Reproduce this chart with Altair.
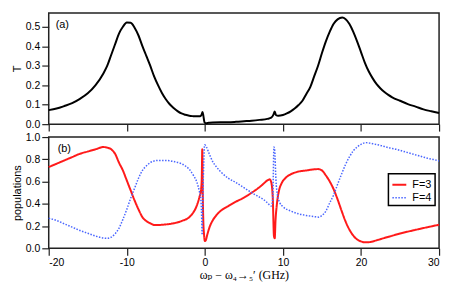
import altair as alt
import pandas as pd

# ---- data ----
t_x = [-20, -19, -18, -17, -16, -15, -14, -13, -12.5, -12, -11.5, -11, -10.5, -10, -9.5, -9,
       -8.5, -8, -7.5, -7, -6.5, -6, -5.5, -5, -4.5, -4, -3.5, -3, -2.5, -2, -1.5, -1,
       -0.6, -0.4, -0.3, -0.2, -0.05, 0.1, 0.5, 1, 2, 3, 4, 5, 6, 7, 8, 8.5, 8.8, 8.95,
       9.1, 9.4, 10, 10.5, 11, 11.5, 12, 12.5, 13, 13.5, 14, 14.5, 15, 15.5, 16, 16.5, 17,
       17.6, 18, 18.5, 19, 19.5, 20, 20.5, 21, 21.5, 22, 22.5, 23, 23.5, 24, 25, 26, 27,
       28, 29, 30]
t_y = [0.072, 0.08, 0.093, 0.108, 0.13, 0.158, 0.2, 0.26, 0.3, 0.355, 0.41, 0.465, 0.5, 0.522,
       0.52, 0.495, 0.455, 0.40, 0.35, 0.30, 0.245, 0.20, 0.16, 0.128, 0.102, 0.083, 0.067,
       0.055, 0.048, 0.043, 0.041, 0.040, 0.041, 0.05, 0.062, 0.045, 0.01, 0.005, 0.007,
       0.009, 0.010, 0.010, 0.012, 0.015, 0.018, 0.022, 0.027, 0.033, 0.05, 0.065,
       0.047, 0.043, 0.047, 0.055, 0.066, 0.08, 0.098, 0.12, 0.155, 0.19, 0.245, 0.30,
       0.365, 0.425, 0.475, 0.515, 0.538, 0.547, 0.54, 0.515, 0.475, 0.425, 0.37, 0.315,
       0.27, 0.235, 0.205, 0.183, 0.165, 0.15, 0.138, 0.12, 0.103, 0.09, 0.076, 0.066, 0.057]

f3_x = [-20, -19, -18, -17, -16, -15, -14, -13, -12.5, -12, -11.5, -11, -10.5, -10, -9.5, -9,
        -8.5, -8, -7.5, -7, -6.5, -6, -5, -4, -3, -2, -1.5, -1, -0.7, -0.5, -0.4, -0.33,
        -0.27, -0.2, -0.1, 0, 0.1, 0.3, 0.6, 1, 1.5, 2, 3, 4, 5, 6, 7, 7.5, 8, 8.3, 8.5,
        8.7, 8.85, 8.95, 9.05, 9.2, 9.5, 9.8, 10.3, 11, 12, 13, 14, 14.5, 15, 15.5, 16,
        16.5, 17, 17.5, 18, 18.5, 19, 19.5, 20, 20.5, 21, 22, 23, 24, 25, 26, 27, 28, 29, 30]
f3_y = [0.73, 0.76, 0.79, 0.82, 0.85, 0.87, 0.89, 0.91, 0.905, 0.89, 0.85, 0.77, 0.70, 0.61,
        0.52, 0.43, 0.35, 0.28, 0.245, 0.225, 0.21, 0.21, 0.215, 0.225, 0.245, 0.28, 0.32,
        0.39, 0.46, 0.52, 0.62, 0.89, 0.50, 0.25, 0.12, 0.065, 0.07, 0.12, 0.19, 0.25,
        0.30, 0.335, 0.38, 0.42, 0.455, 0.50, 0.55, 0.58, 0.61, 0.62, 0.595, 0.45, 0.11,
        0.09, 0.25, 0.38, 0.52, 0.58, 0.63, 0.665, 0.69, 0.70, 0.71, 0.712, 0.70, 0.655,
        0.60, 0.53, 0.44, 0.34, 0.245, 0.17, 0.115, 0.08, 0.062, 0.054, 0.055, 0.072,
        0.093, 0.113, 0.133, 0.15, 0.166, 0.182, 0.197, 0.212]

f4_x = [-20, -19, -18, -17, -16, -15, -14, -13, -12.5, -12, -11.5, -11, -10.5, -10, -9.5, -9,
        -8.5, -8, -7.5, -7, -6.5, -6, -5, -4, -3, -2.5, -2, -1.5, -1, -0.7, -0.5, -0.4,
        -0.35, -0.3, -0.15, -0.03, 0.2, 0.5, 1, 1.5, 2, 3, 4, 5, 6, 7, 7.5, 8, 8.5, 8.7,
        8.85, 8.95, 9.1, 9.3, 9.6, 10, 11, 12, 13, 14, 14.6, 15, 15.5, 16, 16.5, 17, 17.5,
        18, 18.5, 19, 19.5, 20, 20.7, 21.5, 22.5, 23.5, 24.5, 25.5, 26.5, 27.5, 28.5,
        29.5, 30]
f4_y = [0.27, 0.25, 0.22, 0.19, 0.16, 0.135, 0.11, 0.093, 0.09, 0.10, 0.13, 0.18, 0.26, 0.35,
        0.45, 0.54, 0.63, 0.70, 0.74, 0.77, 0.785, 0.79, 0.79, 0.78, 0.76, 0.74, 0.71,
        0.66, 0.59, 0.51, 0.43, 0.25, 0.12, 0.3, 0.75, 0.93, 0.91, 0.86, 0.78, 0.73, 0.69,
        0.63, 0.59, 0.545, 0.50, 0.46, 0.44, 0.41, 0.38, 0.45, 0.91, 0.88, 0.62, 0.48,
        0.41, 0.375, 0.335, 0.31, 0.295, 0.285, 0.28, 0.295, 0.335, 0.41, 0.48, 0.575,
        0.665, 0.75, 0.82, 0.875, 0.91, 0.935, 0.95, 0.94, 0.925, 0.905, 0.89, 0.87, 0.85,
        0.83, 0.81, 0.795, 0.785]

series_names = ["F=3", "F=4"]
series_colors = ["#ff1a1a", "#4a66ff"]
x_ticks = [-20, -10, 0, 10, 20, 30]
t_ticks = [0.0, 0.1, 0.2, 0.3, 0.4, 0.5]
p_ticks = [0.0, 0.2, 0.4, 0.6, 0.8, 1.0]

df_t = pd.DataFrame({"x": t_x, "T": t_y})
df_p = pd.concat([
    pd.DataFrame({"x": f3_x, "p": f3_y, "series": series_names[0]}),
    pd.DataFrame({"x": f4_x, "p": f4_y, "series": series_names[1]}),
])

FONT = "Liberation Sans"
W, H = 393, 112
xscale = alt.Scale(domain=[-20, 30], nice=False, zero=False)

top_line = alt.Chart(df_t).mark_line(color="black", strokeWidth=2,
                                     interpolate="monotone").encode(
    x=alt.X("x:Q", scale=xscale,
            axis=alt.Axis(values=x_ticks, labels=False, title=None)),
    y=alt.Y("T:Q", scale=alt.Scale(domain=[0, 0.571], nice=False),
            axis=alt.Axis(values=t_ticks, format=".1f", title="T")),
)
top_lbl = alt.Chart(pd.DataFrame({"lab": ["(a)"]})).mark_text(
    align="left", baseline="middle", fontSize=11, font=FONT, color="black"
).encode(text="lab:N", x=alt.value(7), y=alt.value(12))
top = alt.layer(top_line, top_lbl).properties(width=W, height=H)

bot_line = alt.Chart(df_p).mark_line(interpolate="monotone").encode(
    x=alt.X("x:Q", scale=xscale,
            axis=alt.Axis(values=x_ticks, labelExpr="'' + datum.value",
                          title="ωₚ − ω₄→₅′ (GHz)",
                          titleFont="Liberation Serif, DejaVu Serif",
                          titleFontSize=12, titleFontWeight="normal",
                          titlePadding=2)),
    y=alt.Y("p:Q", scale=alt.Scale(domain=[0, 1], nice=False),
            axis=alt.Axis(values=p_ticks, format=".1f", title="populations")),
    color=alt.Color("series:N",
                    scale=alt.Scale(domain=series_names, range=series_colors),
                    legend=alt.Legend(title=None, orient="none", legendX=342, legendY=162,
                                      symbolType="stroke", symbolSize=196,
                                      labelFont=FONT, labelFontSize=11, labelOffset=5,
                                      strokeColor="black", fillColor="white",
                                      padding=3, rowPadding=0, cornerRadius=0)),
    strokeDash=alt.StrokeDash("series:N",
                              scale=alt.Scale(domain=series_names, range=[[1, 0], [1.5, 1.5]]),
                              legend=None),
    strokeWidth=alt.StrokeWidth("series:N",
                                scale=alt.Scale(domain=series_names, range=[2, 1.5]),
                                legend=None),
)
bot_lbl = alt.Chart(pd.DataFrame({"lab": ["(b)"]})).mark_text(
    align="left", baseline="middle", fontSize=11, font=FONT, color="black"
).encode(text="lab:N", x=alt.value(9), y=alt.value(12))
bot = alt.layer(bot_line, bot_lbl).properties(width=W, height=H)

chart = alt.vconcat(top, bot, spacing=13, bounds="flush").properties(
    padding={"left": 2, "top": 3, "right": 5, "bottom": 2}
).configure_view(
    stroke="#222", strokeWidth=1.5
).configure_axis(
    grid=False, domain=False, tickColor="#222", tickSize=7, tickWidth=1.2,
    labelFont=FONT, labelFontSize=10.5, labelColor="black", labelPadding=2,
    titleFont=FONT, titleFontSize=11, titleFontWeight="normal", titleColor="black",
    titlePadding=3
).configure_legend(
    strokeWidth=1.5
)

chart.save("out.html", embed_options={"renderer": "svg", "actions": False})
